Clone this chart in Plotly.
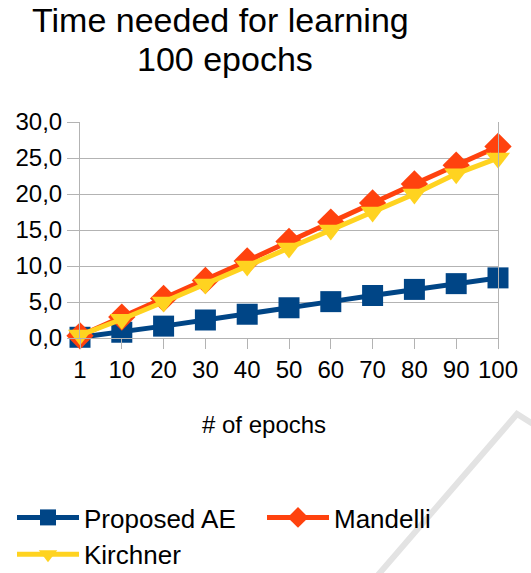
import plotly.graph_objects as go

epochs = ["1", "10", "20", "30", "40", "50", "60", "70", "80", "90", "100"]
proposed_ae = [0.1, 0.8, 1.65, 2.5, 3.3, 4.2, 5.05, 5.9, 6.75, 7.55, 8.35]
mandelli = [0.3, 2.9, 5.5, 8.0, 10.7, 13.4, 16.1, 18.75, 21.4, 24.0, 26.6]
kirchner = [0.4, 2.6, 5.0, 7.5, 10.0, 12.5, 15.0, 17.5, 20.0, 22.8, 25.0]
y_ticks = [0, 5, 10, 15, 20, 25, 30]

W, H = 531, 573
L, R, T, B = 80, 33, 122, 235
PW, PH = W - L - R, H - T - B


def px(xp):
    return (xp - L) / PW


def py(yp):
    return (H - B - yp) / PH


fig = go.Figure()
fig.add_trace(go.Scatter(
    x=epochs, y=proposed_ae, name="Proposed AE", mode="lines+markers",
    line=dict(color="#004586", width=5),
    marker=dict(symbol="square", size=21, color="#004586"),
    cliponaxis=False))
fig.add_trace(go.Scatter(
    x=epochs, y=mandelli, name="Mandelli", mode="lines+markers",
    line=dict(color="#ff420e", width=5),
    marker=dict(symbol="diamond", size=21, color="#ff420e"),
    cliponaxis=False))
fig.add_trace(go.Scatter(
    x=epochs, y=kirchner, name="Kirchner", mode="lines+markers",
    line=dict(color="#ffd320", width=5),
    marker=dict(symbol="triangle-down", size=21, color="#ffd320"),
    cliponaxis=False))

font = "Liberation Sans, Arial, sans-serif"

fig.update_layout(
    width=W, height=H,
    margin=dict(l=L, r=R, t=T, b=B, autoexpand=False),
    paper_bgcolor="white", plot_bgcolor="white",
    separators=", ",
    font=dict(family=font, color="black", size=24),
    showlegend=True,
    legend=dict(orientation="h", xref="paper", yref="paper",
                x=px(12), y=py(494), xanchor="left", yanchor="top",
                entrywidth=173, entrywidthmode="pixels", itemwidth=62,
                font=dict(size=26, family=font), tracegroupgap=0,
                bgcolor="rgba(0,0,0,0)"),
)

fig.update_xaxes(
    type="category", range=[0, len(epochs) - 1],
    showline=True, linecolor="#b3b3b3", linewidth=1,
    ticks="outside", ticklen=10, tickcolor="#b3b3b3",
    showgrid=False, tickfont=dict(size=24),
    zeroline=False,
)
fig.update_yaxes(
    range=[0, 30], tickvals=y_ticks, tickformat=".1f",
    showline=True, mirror=True, linecolor="#b3b3b3", linewidth=1,
    ticks="outside", ticklen=12, tickcolor="#b3b3b3",
    showgrid=True, gridcolor="#b3b3b3", gridwidth=1,
    tickfont=dict(size=24), zeroline=False,
)

# title (two lines, as in the reference)
fig.add_annotation(text="Time needed for learning", xref="paper", yref="paper",
                   x=px(220), y=py(20), xanchor="center", yanchor="middle",
                   showarrow=False, font=dict(size=34, family=font))
fig.add_annotation(text="100 epochs", xref="paper", yref="paper",
                   x=px(225), y=py(59), xanchor="center", yanchor="middle",
                   showarrow=False, font=dict(size=34, family=font))

fig.add_annotation(text="# of epochs", xref="paper", yref="paper",
                   x=px(264), y=py(424), xanchor="center", yanchor="middle",
                   showarrow=False, font=dict(size=24, family=font))

# faint watermark stroke in the lower right corner
fig.add_shape(type="path", xref="paper", yref="paper", layer="below",
              path=f"M {px(378)},{py(575)} L {px(517)},{py(414)} L {px(533)},{py(424)}",
              line=dict(color="#e3e3e3", width=6))

fig.write_html("out.html",
               config={"displayModeBar": False},
               post_script="document.body.style.margin='0';"
                           "document.body.style.overflow='hidden';")
